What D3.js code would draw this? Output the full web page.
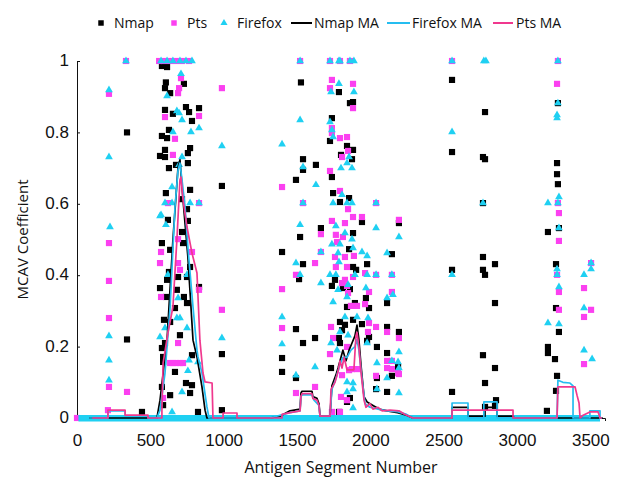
<!DOCTYPE html>
<html>
<head>
<meta charset="utf-8">
<script src="https://cdn.jsdelivr.net/npm/d3@7/dist/d3.min.js"></script>
<style>
  html, body { margin: 0; padding: 0; background: #fff; }
  svg { display: block; }
  .tick-label { font-family: "Liberation Sans", Arial, sans-serif; font-size: 17px; fill: #111; }
  .title { font-family: "Open Sans", sans-serif; fill: #111; }
  .legend-text { font-family: "Open Sans", sans-serif; font-size: 14px; fill: #111; }
</style>
</head>
<body>
<svg id="chart" width="635" height="478"></svg>
<script>
// Axis extent and tick values
const xDomain = [0, 3600];
const xTicks = [0, 500, 1000, 1500, 2000, 2500, 3000, 3500];
const yTicks = [0, 0.2, 0.4, 0.6, 0.8, 1];

// Scatter series: [antigen segment, MCAV coefficient]
const nmapPoints = [
  [341, 0.80], [341, 0.22], [443, 0.017],
  [579, 0.986], [614, 0.983], [606, 0.94], [729, 0.936], [600, 0.924], [635, 0.91], [743, 0.871], [832, 0.868],
  [600, 0.863], [764, 0.857], [654, 0.852], [784, 0.832], [627, 0.807], [579, 0.79], [614, 0.784], [771, 0.756],
  [600, 0.751], [756, 0.742], [566, 0.734], [600, 0.731], [756, 0.714], [627, 0.70], [675, 0.709], [606, 0.63],
  [771, 0.639], [716, 0.613], [750, 0.585], [620, 0.555], [756, 0.552], [716, 0.521], [579, 0.49], [635, 0.471],
  [723, 0.49], [771, 0.423], [627, 0.409], [689, 0.395], [614, 0.387], [750, 0.395], [566, 0.364], [832, 0.367],
  [681, 0.359], [606, 0.339], [729, 0.339], [750, 0.322], [668, 0.308], [593, 0.275], [635, 0.269], [702, 0.232],
  [600, 0.21], [579, 0.196], [587, 0.171], [784, 0.176], [587, 0.157], [668, 0.129], [743, 0.098], [784, 0.092],
  [579, 0.087], [771, 0.07], [635, 0.064], [587, 0.036], [825, 0.017],
  [988, 0.65], [988, 0.179], [988, 0.022],
  [1527, 0.94], [1786, 0.913], [1882, 0.885], [1861, 0.882], [1738, 0.84], [1725, 0.776], [1841, 0.762],
  [1882, 0.751], [1800, 0.737], [1875, 0.725], [1541, 0.725], [1541, 0.695], [1629, 0.709], [1738, 0.675],
  [1493, 0.667], [1746, 0.63], [1855, 0.616], [1793, 0.605], [1943, 0.549], [2195, 0.546], [1663, 0.532],
  [1882, 0.518], [1521, 0.507], [1855, 0.473], [1398, 0.465], [2147, 0.459], [1541, 0.431], [1978, 0.431],
  [1882, 0.423], [1903, 0.415], [1514, 0.389], [1759, 0.387], [1738, 0.37], [1813, 0.364], [1861, 0.361],
  [1970, 0.336], [2114, 0.322], [1895, 0.322], [1841, 0.311], [1991, 0.308], [1793, 0.269], [1827, 0.261],
  [1807, 0.246], [1882, 0.275], [1943, 0.263], [1493, 0.249], [2114, 0.255], [2195, 0.241], [1978, 0.216],
  [1793, 0.21], [1623, 0.224], [1541, 0.21], [1786, 0.224], [1991, 0.227], [2045, 0.199], [2114, 0.182],
  [1398, 0.168], [1398, 0.129], [2189, 0.143], [1732, 0.14], [1493, 0.112], [2045, 0.112], [2147, 0.118],
  [2114, 0.073], [1861, 0.056], [1841, 0.045], [1786, 0.017], [2039, 0.081],
  [2557, 0.947], [2782, 0.857], [2557, 0.745], [2768, 0.731], [2782, 0.725], [2768, 0.602], [2768, 0.451],
  [2850, 0.431], [2557, 0.415], [2768, 0.415], [2782, 0.401], [2850, 0.322], [2768, 0.176], [2850, 0.14],
  [2782, 0.098], [2557, 0.073], [2857, 0.05], [2782, 0.031], [2850, 0.034],
  [3279, 0.882], [3273, 0.714], [3273, 0.683], [3279, 0.655], [3211, 0.521], [3286, 0.532], [3266, 0.431],
  [3266, 0.308], [3286, 0.241], [3211, 0.199], [3211, 0.182], [3259, 0.165], [3273, 0.118], [3266, 0.076],
  [3204, 0.02]
];

const ptsPoints = [
  [0, 0],
  [218, 0.908], [218, 0.49], [218, 0.384], [218, 0.28], [218, 0.087], [211, 0.022], [334, 1.0], [341, 0.073],
  [560, 1.0], [593, 1.0], [635, 1.0], [675, 1.0], [716, 1.0], [764, 1.0],
  [709, 0.952], [696, 0.924], [689, 0.91], [600, 0.843], [832, 0.846], [668, 0.782], [654, 0.737], [620, 0.602],
  [832, 0.602], [573, 0.465], [566, 0.434], [784, 0.465], [689, 0.434], [702, 0.415], [832, 0.359], [573, 0.339],
  [689, 0.21], [689, 0.501], [635, 0.154], [654, 0.154], [675, 0.154], [702, 0.154], [723, 0.154], [587, 0.056],
  [988, 0.924], [988, 0.303],
  [1521, 1.0], [1725, 1.0], [1793, 1.0], [1861, 1.0],
  [1738, 0.947], [1882, 0.936], [1725, 0.924], [1882, 0.868], [1738, 0.812], [1738, 0.798], [1793, 0.784],
  [1841, 0.787], [1848, 0.748], [1807, 0.731], [1725, 0.692], [1398, 0.647], [1793, 0.636], [1541, 0.602],
  [2039, 0.602], [1848, 0.585], [1882, 0.563], [1943, 0.563], [1738, 0.552], [1827, 0.546], [2195, 0.555],
  [1663, 0.515], [1765, 0.513], [1813, 0.507], [1773, 0.493], [1663, 0.465], [1759, 0.451], [1827, 0.451],
  [1888, 0.454], [1623, 0.434], [1765, 0.423], [1841, 0.423], [1964, 0.406], [1493, 0.401], [1882, 0.395],
  [2039, 0.401], [2147, 0.401], [1807, 0.378], [1827, 0.387], [1841, 0.37], [1398, 0.361], [1848, 0.35],
  [1991, 0.353], [2147, 0.353], [1868, 0.314], [1909, 0.314], [1964, 0.319], [1398, 0.252], [1732, 0.255],
  [1991, 0.266], [2039, 0.255], [2114, 0.241], [1984, 0.241], [2195, 0.224], [1746, 0.224], [1841, 0.199],
  [1725, 0.179], [2114, 0.16], [2147, 0.16], [1855, 0.134], [1909, 0.137], [1875, 0.137], [1807, 0.12],
  [2114, 0.14], [2147, 0.137], [2195, 0.123], [2039, 0.118], [2189, 0.126], [1623, 0.087], [1493, 0.07],
  [1800, 0.059], [1841, 0.05], [1793, 0.017], [1738, 0.017],
  [2557, 1.0],
  [3279, 1.0], [3273, 0.936], [3279, 0.602], [3286, 0.574], [3286, 0.496], [3273, 0.401], [3286, 0.353],
  [3286, 0.303], [3505, 0.434], [3457, 0.364], [3505, 0.303], [3457, 0.283], [3457, 0.151]
];

const firefoxPoints = [
  [218, 0.919], [218, 0.731], [225, 0.535], [218, 0.23], [218, 0.162], [218, 0.106], [334, 1.0],
  [573, 1.0], [614, 1.0], [654, 1.0], [702, 1.0], [743, 1.0], [784, 1.0],
  [709, 0.964], [614, 0.902], [681, 0.86], [696, 0.854], [716, 0.835], [777, 0.801], [832, 0.812], [654, 0.801],
  [716, 0.731], [696, 0.709], [648, 0.647], [600, 0.602], [648, 0.602], [771, 0.602], [832, 0.602], [573, 0.569],
  [606, 0.541], [566, 0.566], [620, 0.401], [750, 0.401], [689, 0.336], [681, 0.28], [702, 0.28], [600, 0.252],
  [750, 0.252], [566, 0.227], [764, 0.162], [825, 0.157], [756, 0.132], [716, 0.073], [648, 0.017],
  [988, 0.762], [988, 0.224],
  [1521, 1.0], [1725, 1.0], [1786, 1.0], [1793, 1.0], [1861, 1.0], [1888, 1.0],
  [1786, 0.936], [1732, 0.913], [1888, 0.913], [1521, 0.835], [1725, 0.829], [1738, 0.807], [1746, 0.787],
  [1398, 0.767], [1855, 0.731], [1541, 0.703], [1841, 0.714], [1875, 0.70], [1800, 0.70], [1629, 0.653],
  [1807, 0.625], [1541, 0.602], [1746, 0.602], [1841, 0.602], [1875, 0.602], [2039, 0.602], [1521, 0.541],
  [1765, 0.538], [2039, 0.532], [1827, 0.518], [2195, 0.507], [1875, 0.501], [1738, 0.487], [1793, 0.487],
  [1663, 0.465], [1493, 0.434], [1943, 0.465], [1978, 0.454], [2114, 0.462], [1780, 0.462], [1882, 0.476],
  [1786, 0.437], [1521, 0.401], [1725, 0.401], [1765, 0.401], [1895, 0.401], [1978, 0.401], [2039, 0.401],
  [2147, 0.401], [1663, 0.378], [1780, 0.359], [1848, 0.373], [1970, 0.364], [1841, 0.339], [2154, 0.345],
  [2114, 0.336], [1746, 0.325], [1398, 0.283], [1827, 0.283], [1909, 0.283], [1984, 0.28], [1793, 0.241],
  [1848, 0.232], [1978, 0.21], [1398, 0.207], [1773, 0.19], [1732, 0.21], [2195, 0.185], [2147, 0.16],
  [2045, 0.154], [2189, 0.157], [1623, 0.143], [2195, 0.14], [1493, 0.12], [1882, 0.098], [1841, 0.101],
  [2114, 0.112], [2045, 0.081], [1841, 0.073], [1882, 0.081], [2195, 0.07], [1882, 0.028],
  [2557, 1.0], [2774, 1.0], [2788, 1.0], [2557, 0.801], [2768, 0.602], [2557, 0.401],
  [3279, 1.0], [3279, 0.882], [3273, 0.849], [3273, 0.84], [3286, 0.619], [3211, 0.602], [3279, 0.602],
  [3286, 0.532], [3273, 0.417], [3273, 0.401], [3286, 0.367], [3211, 0.266], [3286, 0.263],
  [3505, 0.434], [3505, 0.417], [3457, 0.401], [3457, 0.308], [3457, 0.19], [3512, 0.165]
];

// Run of Firefox segments scoring exactly zero (drawn as a dense strip of markers)
const firefoxZeroRun = [10, 3566];

// Moving averages: [antigen segment, MCAV coefficient]
const nmapMA = [
  [83, 0], [545, 0], [566, 0.05], [614, 0.218], [654, 0.499], [689, 0.703], [702, 0.723], [723, 0.611],
  [756, 0.451], [791, 0.218], [818, 0.171], [852, 0.087], [873, 0.022], [886, 0],
  [1316, 0], [1384, 0.005], [1452, 0.02], [1521, 0.025], [1527, 0.07], [1534, 0.075], [1602, 0.075],
  [1608, 0.06], [1636, 0.055], [1650, 0.04], [1657, 0.005], [1725, 0.005], [1738, 0.09], [1765, 0.12],
  [1780, 0.14], [1800, 0.17], [1813, 0.19], [1834, 0.16], [1855, 0.19], [1875, 0.21], [1895, 0.23],
  [1909, 0.26], [1922, 0.22], [1936, 0.15], [1957, 0.06], [1978, 0.045], [2018, 0.035], [2060, 0.025],
  [2114, 0.02], [2185, 0.015], [2247, 0.008], [2289, 0],
  [2557, 0], [2557, 0.03], [2666, 0.03], [2666, 0.005], [2782, 0.005], [2782, 0.03], [2864, 0.03],
  [2864, 0.005], [2975, 0.005], [2975, 0], [3585, 0]
];

const firefoxMA = [
  [83, 0], [211, 0], [211, 0.02], [328, 0.02], [328, 0.006], [484, 0.006], [484, 0], [545, 0], [566, 0.022],
  [600, 0.126], [635, 0.311], [668, 0.591], [689, 0.695], [702, 0.714], [716, 0.667], [737, 0.591],
  [756, 0.479], [791, 0.311], [818, 0.19], [825, 0.171], [852, 0.126], [886, 0.031], [900, 0],
  [1316, 0], [1452, 0.015], [1521, 0.02], [1527, 0.06], [1534, 0.065], [1602, 0.065], [1616, 0.05],
  [1650, 0.035], [1657, 0.005], [1725, 0.005], [1738, 0.08], [1765, 0.11], [1793, 0.15], [1813, 0.17],
  [1841, 0.17], [1868, 0.19], [1895, 0.2], [1909, 0.22], [1922, 0.19], [1943, 0.11], [1964, 0.04],
  [1997, 0.03], [2053, 0.025], [2114, 0.02], [2185, 0.018], [2247, 0.01], [2289, 0],
  [2557, 0], [2557, 0.042], [2666, 0.042], [2666, 0], [2774, 0], [2774, 0.045], [2864, 0.045], [2864, 0],
  [3273, 0], [3279, 0.106], [3313, 0.1], [3361, 0.098], [3382, 0.09], [3382, 0], [3497, 0], [3497, 0.02],
  [3566, 0.02], [3566, 0], [3579, 0]
];

const ptsMA = [
  [104, 0], [211, 0], [211, 0.022], [328, 0.022], [328, 0.008], [484, 0.008], [484, 0], [579, 0],
  [579, 0.022], [587, 0.154], [620, 0.238], [654, 0.311], [681, 0.499], [702, 0.667], [709, 0.675],
  [723, 0.611], [750, 0.535], [784, 0.462], [818, 0.406], [838, 0.218], [859, 0.126], [873, 0.101],
  [921, 0.098], [927, 0], [996, 0], [996, 0.014], [1091, 0.014], [1091, 0],
  [1398, 0], [1398, 0.01], [1452, 0.015], [1521, 0.02], [1527, 0.06], [1534, 0.068], [1602, 0.068],
  [1608, 0.055], [1636, 0.05], [1650, 0.035], [1657, 0.005], [1725, 0.005], [1732, 0.08], [1759, 0.1],
  [1780, 0.13], [1793, 0.16], [1807, 0.14], [1821, 0.17], [1841, 0.135], [1888, 0.135], [1902, 0.23],
  [1909, 0.24], [1922, 0.2], [1936, 0.13], [1957, 0.05], [1970, 0.03], [1997, 0.04], [2018, 0.025],
  [2053, 0.03], [2081, 0.02], [2134, 0.022], [2195, 0.02], [2237, 0.01], [2289, 0],
  [2557, 0], [2557, 0.022], [2973, 0.022], [2973, 0],
  [3273, 0], [3279, 0.087], [3396, 0.087], [3409, 0.064], [3423, 0.042], [3430, 0], [3451, 0.008],
  [3497, 0.017], [3553, 0.017], [3566, 0], [3579, 0]
];

const colors = {
  nmap: "#000000",
  pts: "#fb40f0",
  firefox: "#1fd0f2",
  nmapMA: "#000000",
  firefoxMA: "#25bdf0",
  ptsMA: "#f0388e"
};

const svg = d3.select("#chart");
const margin = { left: 77, right: 30, top: 61, bottom: 60 };
const W = 635, H = 478;

const x = d3.scaleLinear().domain(xDomain).range([margin.left, W - margin.right]);
const y = d3.scaleLinear().domain([0, 1]).range([H - margin.bottom, margin.top]);

// Axes
const xAxis = d3.axisBottom(x).tickValues(xTicks).tickSize(3).tickSizeOuter(3).tickFormat(d3.format("d"));
const yAxis = d3.axisLeft(y).tickValues(yTicks).tickSize(-3).tickSizeOuter(0).tickFormat(d => String(d));

const gx = svg.append("g").attr("transform", `translate(0,${y(0)})`).call(xAxis);
gx.select(".domain").attr("stroke", "#111");
gx.selectAll(".tick line").attr("stroke", "#111");
gx.selectAll(".tick text").attr("class", "tick-label").attr("y", 16).attr("dy", "0.71em");

const gy = svg.append("g").attr("transform", `translate(${x(0)},0)`).call(yAxis);
gy.select(".domain").attr("stroke", "#111");
gy.selectAll(".tick line").attr("stroke", "#111");
gy.selectAll(".tick text").attr("class", "tick-label").attr("x", -8).attr("dy", "0.28em");

// Axis titles
svg.append("text").attr("class", "title")
  .attr("x", (x.range()[0] + x.range()[1]) / 2).attr("y", 473)
  .attr("text-anchor", "middle").style("font-size", "16px")
  .text("Antigen Segment Number");
svg.append("text").attr("class", "title")
  .attr("transform", `translate(28,${(y(0) + y(1)) / 2}) rotate(-90)`)
  .attr("text-anchor", "middle").style("font-size", "15px")
  .text("MCAV Coefficient");

const plot = svg.append("g");
const square = d3.symbol().type(d3.symbolSquare).size(38);
const triangle = d3.symbol().type(d3.symbolTriangle).size(26);

function drawPoints(data, sym, color) {
  plot.append("g").selectAll("path").data(data).join("path")
    .attr("d", sym)
    .attr("transform", d => `translate(${x(d[0])},${y(d[1])})`)
    .attr("fill", color);
}

drawPoints(nmapPoints, square, colors.nmap);
drawPoints(ptsPoints, square, colors.pts);

// Strip of zero-valued Firefox markers along the baseline
plot.append("rect")
  .attr("x", x(firefoxZeroRun[0]))
  .attr("width", x(firefoxZeroRun[1]) - x(firefoxZeroRun[0]))
  .attr("y", y(0) - 3)
  .attr("height", 6.5)
  .attr("fill", colors.firefox);

drawPoints(firefoxPoints, triangle, colors.firefox);

// Moving-average lines
const line = d3.line().x(d => x(d[0])).y(d => y(d[1]));
[[nmapMA, colors.nmapMA], [firefoxMA, colors.firefoxMA], [ptsMA, colors.ptsMA]].forEach(([data, c]) => {
  plot.append("path").datum(data)
    .attr("d", line)
    .attr("fill", "none")
    .attr("stroke", c)
    .attr("stroke-width", 1.7)
    .attr("stroke-linejoin", "round");
});

// Legend
const legendY = 23;
const legend = svg.append("g");
const legendItems = [
  { label: "Nmap", kind: "square", color: colors.nmap, mx: 101, tx: 114 },
  { label: "Pts", kind: "square", color: colors.pts, mx: 174, tx: 187 },
  { label: "Firefox", kind: "triangle", color: colors.firefox, mx: 224, tx: 237 },
  { label: "Nmap MA", kind: "line", color: colors.nmapMA, mx: 291, mx2: 312, tx: 314 },
  { label: "Firefox MA", kind: "line", color: colors.firefoxMA, mx: 387, mx2: 410, tx: 412 },
  { label: "Pts MA", kind: "line", color: colors.ptsMA, mx: 493, mx2: 513, tx: 516 }
];
legendItems.forEach(it => {
  if (it.kind === "line") {
    legend.append("line").attr("x1", it.mx).attr("x2", it.mx2)
      .attr("y1", legendY).attr("y2", legendY)
      .attr("stroke", it.color).attr("stroke-width", 2);
  } else {
    legend.append("path")
      .attr("d", (it.kind === "square" ? d3.symbol().type(d3.symbolSquare).size(30)
                                         : d3.symbol().type(d3.symbolTriangle).size(22))())
      .attr("transform", `translate(${it.mx},${legendY})`)
      .attr("fill", it.color);
  }
  legend.append("text").attr("class", "legend-text")
    .attr("x", it.tx).attr("y", legendY).attr("dy", "0.35em")
    .text(it.label);
});
</script>
</body>
</html>
